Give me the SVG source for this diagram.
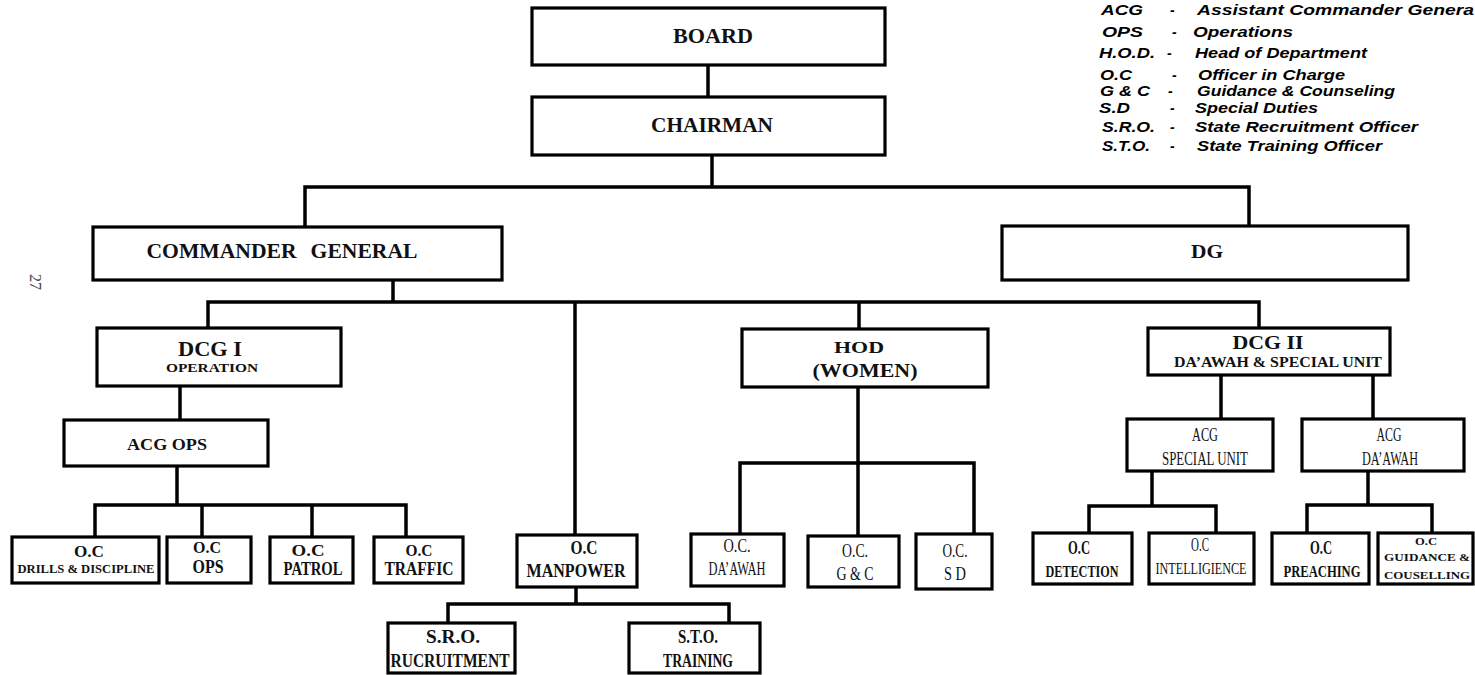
<svg xmlns="http://www.w3.org/2000/svg" width="1475" height="675" viewBox="0 0 1475 675">
<style>
.box{fill:#fff;stroke:#000;stroke-width:3.2}
.ln{stroke:#000;stroke-width:3.5;fill:none;stroke-linecap:square}
.t{font-family:"Liberation Serif","Times New Roman",serif;font-weight:bold;text-anchor:middle;fill:#111}
.n{font-weight:normal}
.lg{font-family:"Liberation Sans",Arial,sans-serif;font-style:italic;font-weight:bold;font-size:14px;fill:#000}
</style>
<rect width="1475" height="675" fill="#fff"/>
<g id="connectors">
<path class="ln" d="M708,65V97M712,155V187M305,187H1249M305,187V227M1249,187V226"/>
<path class="ln" d="M393,280V302M208,302H1259M208,302V328M575,302V535M859,302V329M1259,302V328"/>
<path class="ln" d="M180,386V420M177,466V505M95,505H406M95,505V537M202,505V537M312,505V537M406,505V537"/>
<path class="ln" d="M858,387V463M740,463H974M740,463V534M858,463V536M974,463V534"/>
<path class="ln" d="M576,587V604M448,604H729M448,604V623M729,604V623"/>
<path class="ln" d="M1221,375V419M1373,375V419M1152,471V506M1089,506H1216M1089,506V533M1216,506V533"/>
<path class="ln" d="M1368,471V505M1307,505H1432M1307,505V533M1432,505V533"/>
</g>
<g id="board"><rect class="box" x="532" y="8" width="353" height="57"/><text class="t" x="713" y="43" font-size="20" textLength="80" lengthAdjust="spacingAndGlyphs">BOARD</text></g>
<g id="chairman"><rect class="box" x="532" y="97" width="353" height="58"/><text class="t" x="712" y="132" font-size="20" textLength="122" lengthAdjust="spacingAndGlyphs">CHAIRMAN</text></g>
<g id="commander-general"><rect class="box" x="93" y="227" width="409" height="53"/><text class="t" x="282" y="258" font-size="20" textLength="271" lengthAdjust="spacingAndGlyphs" word-spacing="8">COMMANDER GENERAL</text></g>
<g id="dg"><rect class="box" x="1002" y="226" width="406" height="54"/><text class="t" x="1207" y="258" font-size="19" textLength="32" lengthAdjust="spacingAndGlyphs">DG</text></g>
<g id="dcg1"><rect class="box" x="97" y="328" width="244" height="58"/><text class="t" x="210" y="356" font-size="20" textLength="64" lengthAdjust="spacingAndGlyphs">DCG I</text><text class="t" x="212" y="372" font-size="12" textLength="92" lengthAdjust="spacingAndGlyphs">OPERATION</text></g>
<g id="hod"><rect class="box" x="742" y="329" width="246" height="58"/><text class="t" x="859" y="353" font-size="17" textLength="50" lengthAdjust="spacingAndGlyphs">HOD</text><text class="t" x="865" y="377" font-size="18" textLength="105" lengthAdjust="spacingAndGlyphs">(WOMEN)</text></g>
<g id="dcg2"><rect class="box" x="1148" y="328" width="242" height="47"/><text class="t" x="1268" y="349" font-size="19" textLength="71" lengthAdjust="spacingAndGlyphs">DCG II</text><text class="t" x="1278" y="367" font-size="14" textLength="208" lengthAdjust="spacingAndGlyphs">DA’AWAH &amp; SPECIAL UNIT</text></g>
<g id="acg-ops"><rect class="box" x="64" y="420" width="204" height="46"/><text class="t" x="167" y="450" font-size="17" textLength="80" lengthAdjust="spacingAndGlyphs">ACG OPS</text></g>
<g id="oc-drills"><rect class="box" x="12" y="537" width="147" height="46"/><text class="t" x="89" y="557" font-size="17" textLength="30" lengthAdjust="spacingAndGlyphs">O.C</text><text class="t" x="86" y="573" font-size="13" textLength="137" lengthAdjust="spacingAndGlyphs">DRILLS &amp; DISCIPLINE</text></g>
<g id="oc-ops"><rect class="box" x="167" y="537" width="84" height="46"/><text class="t" x="207" y="553" font-size="17" textLength="28" lengthAdjust="spacingAndGlyphs">O.C</text><text class="t" x="208" y="573" font-size="18" textLength="31" lengthAdjust="spacingAndGlyphs">OPS</text></g>
<g id="oc-patrol"><rect class="box" x="270" y="537" width="83" height="46"/><text class="t" x="308" y="556" font-size="17" textLength="33" lengthAdjust="spacingAndGlyphs">O.C</text><text class="t" x="313" y="575" font-size="18" textLength="59" lengthAdjust="spacingAndGlyphs">PATROL</text></g>
<g id="oc-traffic"><rect class="box" x="374" y="537" width="89" height="46"/><text class="t" x="419" y="556" font-size="17" textLength="27" lengthAdjust="spacingAndGlyphs">O.C</text><text class="t" x="419" y="575" font-size="18" textLength="69" lengthAdjust="spacingAndGlyphs">TRAFFIC</text></g>
<g id="oc-manpower"><rect class="box" x="517" y="535" width="120" height="52"/><text class="t" x="584" y="554" font-size="18" textLength="27" lengthAdjust="spacingAndGlyphs">O.C</text><text class="t" x="576" y="577" font-size="18" textLength="99" lengthAdjust="spacingAndGlyphs">MANPOWER</text></g>
<g id="sro"><rect class="box" x="388" y="623" width="127" height="50"/><text class="t" x="453" y="643" font-size="18" textLength="54" lengthAdjust="spacingAndGlyphs">S.R.O.</text><text class="t" x="450" y="667" font-size="18" textLength="119" lengthAdjust="spacingAndGlyphs">RUCRUITMENT</text></g>
<g id="sto"><rect class="box" x="629" y="623" width="131" height="50"/><text class="t" x="698" y="643" font-size="18" textLength="40" lengthAdjust="spacingAndGlyphs">S.T.O.</text><text class="t" x="698" y="667" font-size="18" textLength="70" lengthAdjust="spacingAndGlyphs">TRAINING</text></g>
<g id="oc-daawah-women"><rect class="box" x="691" y="534" width="93" height="52"/><text class="t n" x="737" y="552" font-size="18" textLength="27" lengthAdjust="spacingAndGlyphs">O.C.</text><text class="t n" x="737" y="575" font-size="18" textLength="57" lengthAdjust="spacingAndGlyphs">DA’AWAH</text></g>
<g id="oc-gc"><rect class="box" x="808" y="536" width="91" height="51"/><text class="t n" x="855" y="557" font-size="18" textLength="26" lengthAdjust="spacingAndGlyphs">O.C.</text><text class="t n" x="855" y="580" font-size="18" textLength="37" lengthAdjust="spacingAndGlyphs">G &amp; C</text></g>
<g id="oc-sd"><rect class="box" x="916" y="534" width="76" height="55"/><text class="t n" x="955" y="557" font-size="18" textLength="25" lengthAdjust="spacingAndGlyphs">O.C.</text><text class="t n" x="955" y="580" font-size="18" textLength="22" lengthAdjust="spacingAndGlyphs">S D</text></g>
<g id="acg-special-unit"><rect class="box" x="1127" y="419" width="146" height="52"/><text class="t n" x="1205" y="441" font-size="18" textLength="26" lengthAdjust="spacingAndGlyphs">ACG</text><text class="t n" x="1205" y="465" font-size="18" textLength="86" lengthAdjust="spacingAndGlyphs">SPECIAL UNIT</text></g>
<g id="acg-daawah"><rect class="box" x="1302" y="419" width="162" height="52"/><text class="t n" x="1389" y="441" font-size="18" textLength="25" lengthAdjust="spacingAndGlyphs">ACG</text><text class="t n" x="1390" y="465" font-size="18" textLength="56" lengthAdjust="spacingAndGlyphs">DA’AWAH</text></g>
<g id="oc-detection"><rect class="box" x="1033" y="533" width="99" height="51"/><text class="t" x="1079" y="554" font-size="18" textLength="22" lengthAdjust="spacingAndGlyphs">O.C</text><text class="t" x="1082" y="577" font-size="17" textLength="73" lengthAdjust="spacingAndGlyphs">DETECTION</text></g>
<g id="oc-intelligience"><rect class="box" x="1149" y="533" width="105" height="51"/><text class="t n" x="1200" y="551" font-size="18" textLength="18" lengthAdjust="spacingAndGlyphs">O.C</text><text class="t n" x="1201" y="574" font-size="16" textLength="91" lengthAdjust="spacingAndGlyphs">INTELLIGIENCE</text></g>
<g id="oc-preaching"><rect class="box" x="1272" y="533" width="97" height="51"/><text class="t" x="1321" y="554" font-size="18" textLength="22" lengthAdjust="spacingAndGlyphs">O.C</text><text class="t" x="1322" y="577" font-size="16" textLength="77" lengthAdjust="spacingAndGlyphs">PREACHING</text></g>
<g id="oc-guidance"><rect class="box" x="1378" y="533" width="95" height="51"/><text class="t" x="1426" y="545" font-size="11" textLength="22" lengthAdjust="spacingAndGlyphs">O.C</text><text class="t" x="1427" y="561" font-size="11" textLength="86" lengthAdjust="spacingAndGlyphs">GUIDANCE &amp;</text><text class="t" x="1427" y="579" font-size="11" textLength="86" lengthAdjust="spacingAndGlyphs">COUSELLING</text></g>
<g id="legend">
<text class="lg" x="1101" y="15" textLength="42" lengthAdjust="spacingAndGlyphs">ACG</text><text class="lg" x="1170" y="15">-</text><text class="lg" x="1197" y="15" textLength="277" lengthAdjust="spacingAndGlyphs">Assistant Commander Genera</text>
<text class="lg" x="1102" y="37" textLength="41" lengthAdjust="spacingAndGlyphs">OPS</text><text class="lg" x="1172" y="37">-</text><text class="lg" x="1193" y="37" textLength="100" lengthAdjust="spacingAndGlyphs">Operations</text>
<text class="lg" x="1099" y="58" textLength="56" lengthAdjust="spacingAndGlyphs">H.O.D.</text><text class="lg" x="1167" y="58">-</text><text class="lg" x="1195" y="58" textLength="172" lengthAdjust="spacingAndGlyphs">Head of Department</text>
<text class="lg" x="1100" y="80" textLength="32" lengthAdjust="spacingAndGlyphs">O.C</text><text class="lg" x="1172" y="80">-</text><text class="lg" x="1198" y="80" textLength="147" lengthAdjust="spacingAndGlyphs">Officer in Charge</text>
<text class="lg" x="1100" y="96" textLength="50" lengthAdjust="spacingAndGlyphs">G &amp; C</text><text class="lg" x="1168" y="96">-</text><text class="lg" x="1197" y="96" textLength="198" lengthAdjust="spacingAndGlyphs">Guidance &amp; Counseling</text>
<text class="lg" x="1099" y="113" textLength="31" lengthAdjust="spacingAndGlyphs">S.D</text><text class="lg" x="1170" y="113">-</text><text class="lg" x="1195" y="113" textLength="123" lengthAdjust="spacingAndGlyphs">Special Duties</text>
<text class="lg" x="1102" y="132" textLength="53" lengthAdjust="spacingAndGlyphs">S.R.O.</text><text class="lg" x="1170" y="132">-</text><text class="lg" x="1195" y="132" textLength="223" lengthAdjust="spacingAndGlyphs">State Recruitment Officer</text>
<text class="lg" x="1102" y="151" textLength="48" lengthAdjust="spacingAndGlyphs">S.T.O.</text><text class="lg" x="1170" y="151">-</text><text class="lg" x="1197" y="151" textLength="185" lengthAdjust="spacingAndGlyphs">State Training Officer</text>
</g>
<text x="24" y="288" transform="rotate(90 30 288)" font-family="Liberation Serif, serif" font-size="16" fill="#444" text-anchor="middle">27</text>
</svg>
